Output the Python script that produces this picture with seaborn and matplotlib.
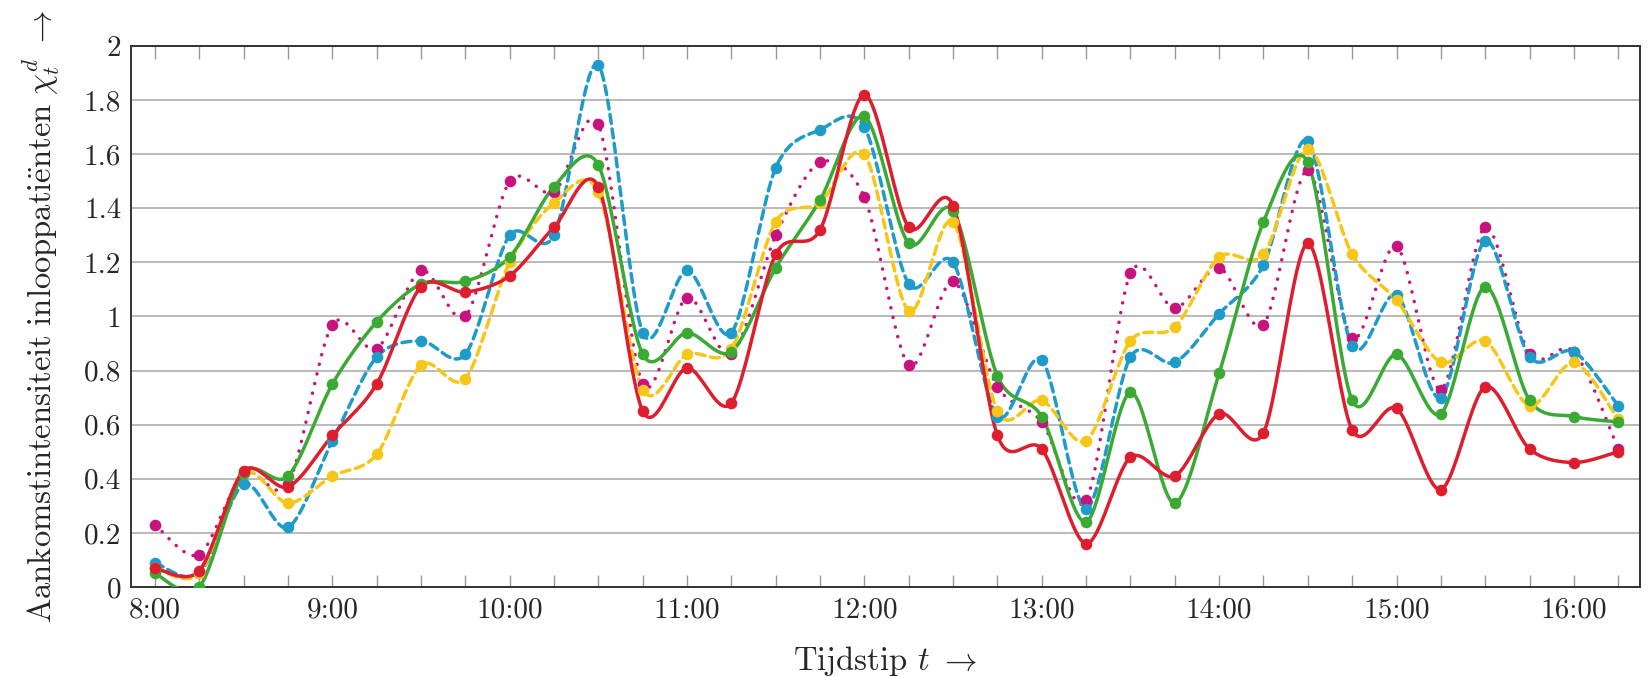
import numpy as np
import pandas as pd
import matplotlib
matplotlib.use("Agg")
import matplotlib.pyplot as plt
import seaborn as sns

# time slots, every 15 minutes from 8:00 to 16:15
slots = list(range(34))
hour_ticks = list(range(0, 34, 4))
hour_labels = [f"{h}:00" for h in range(8, 17)]
y_ticks = [0, 0.2, 0.4, 0.6, 0.8, 1, 1.2, 1.4, 1.6, 1.8, 2]
y_labels = ["0", "0.2", "0.4", "0.6", "0.8", "1", "1.2", "1.4", "1.6", "1.8", "2"]

magenta = [0.23, 0.12, 0.42, 0.38, 0.97, 0.88, 1.17, 1.00, 1.50, 1.46, 1.71,
           0.75, 1.07, 0.86, 1.30, 1.57, 1.44, 0.82, 1.13, 0.74, 0.61, 0.32,
           1.16, 1.03, 1.18, 0.97, 1.54, 0.92, 1.26, 0.73, 1.33, 0.86, 0.87, 0.51]
blue = [0.09, 0.05, 0.38, 0.22, 0.54, 0.85, 0.91, 0.86, 1.30, 1.30, 1.93,
        0.94, 1.17, 0.94, 1.55, 1.69, 1.70, 1.12, 1.20, 0.63, 0.84, 0.29,
        0.85, 0.83, 1.01, 1.19, 1.65, 0.89, 1.08, 0.70, 1.28, 0.85, 0.87, 0.67]
yellow = [0.07, 0.05, 0.42, 0.31, 0.41, 0.49, 0.82, 0.77, 1.20, 1.42, 1.46,
          0.73, 0.86, 0.88, 1.35, 1.42, 1.60, 1.02, 1.35, 0.65, 0.69, 0.54,
          0.91, 0.96, 1.22, 1.23, 1.62, 1.23, 1.06, 0.83, 0.91, 0.67, 0.83, 0.62]
green = [0.05, 0.00, 0.42, 0.41, 0.75, 0.98, 1.12, 1.13, 1.22, 1.48, 1.56,
         0.86, 0.94, 0.87, 1.18, 1.43, 1.74, 1.27, 1.39, 0.78, 0.63, 0.24,
         0.72, 0.31, 0.79, 1.35, 1.57, 0.69, 0.86, 0.64, 1.11, 0.69, 0.63, 0.61]
red = [0.07, 0.06, 0.43, 0.37, 0.56, 0.75, 1.11, 1.09, 1.15, 1.33, 1.48,
       0.65, 0.81, 0.68, 1.23, 1.32, 1.82, 1.33, 1.41, 0.56, 0.51, 0.16,
       0.48, 0.41, 0.64, 0.57, 1.27, 0.58, 0.66, 0.36, 0.74, 0.51, 0.46, 0.50]

series = [
    ("magenta", magenta, "#c8137f", (0.05, 2.8)),
    ("blue", blue, "#1f9bc9", (2.6, 1.6)),
    ("yellow", yellow, "#f6c619", (2.6, 1.6)),
    ("green", green, "#3aaa35", None),
    ("red", red, "#dd1e2f", None),
]


def smooth(x, y, k=0.15, n=24):
    # bezier curve through the points, like pgfplots "smooth"
    pts = np.column_stack([x, y]).astype(float)
    prev = np.vstack([pts[:1], pts[:-1]])
    nxt = np.vstack([pts[1:], pts[-1:]])
    tang = nxt - prev
    t = np.linspace(0, 1, n, endpoint=False)[:, None]
    out = []
    for i in range(len(pts) - 1):
        p0, p3 = pts[i], pts[i + 1]
        p1 = p0 + k * tang[i]
        p2 = p3 - k * tang[i + 1]
        out.append((1 - t) ** 3 * p0 + 3 * (1 - t) ** 2 * t * p1
                   + 3 * (1 - t) * t ** 2 * p2 + t ** 3 * p3)
    out.append(pts[-1:])
    return np.vstack(out)


sns.set_theme(style="white")
plt.rcParams["font.family"] = ["cmr10", "DejaVu Serif"]
plt.rcParams["mathtext.fontset"] = "cm"
plt.rcParams["axes.unicode_minus"] = False

fig = plt.figure(figsize=(16.52, 6.76), dpi=100)
ax = fig.add_axes([0.0793, 0.1317, 0.9134, 0.8003])

for name, vals, col, dash in series:
    curve = smooth(slots, vals)
    cdf = pd.DataFrame({"x": curve[:, 0], "y": curve[:, 1]})
    kw = dict(color=col, linewidth=2.5, zorder=3)
    if dash is not None:
        kw["dashes"] = dash
        kw["dash_capstyle"] = "round"
    sns.lineplot(data=cdf, x="x", y="y", sort=False, estimator=None, ax=ax, **kw)
    pdf = pd.DataFrame({"x": slots, "y": vals})
    sns.scatterplot(data=pdf, x="x", y="y", color=col, s=70, linewidth=0,
                    ax=ax, zorder=4)

ax.set_xlim(-0.54, 33.49)
ax.set_ylim(0, 2)
ax.set_xticks(slots, minor=True)
ax.set_xticks(hour_ticks)
ax.set_xticklabels(hour_labels, fontsize=21)
ax.set_yticks(y_ticks)
ax.set_yticklabels(y_labels, fontsize=21)
ax.tick_params(axis="x", which="both", direction="in", length=9, width=1.0,
               color="#999999", top=True, bottom=True, pad=7)
ax.tick_params(axis="y", direction="in", length=0, pad=7)
ax.grid(axis="y", color="#b4b4b4", linewidth=1.3, zorder=0)
ax.set_axisbelow(True)
for sp in ax.spines.values():
    sp.set_color("#333333")
    sp.set_linewidth(1.4)

ax.set_xlabel(r"Tijdstip $t\ \rightarrow$", fontsize=23.5, labelpad=15)
ax.set_ylabel(r"$\mathrm{Aankomstintensiteit\ inlooppati\ddot{e}nten}\ \chi_t^d\ \rightarrow$",
              fontsize=23.5, labelpad=16)

fig.savefig("out.png", dpi=100)
